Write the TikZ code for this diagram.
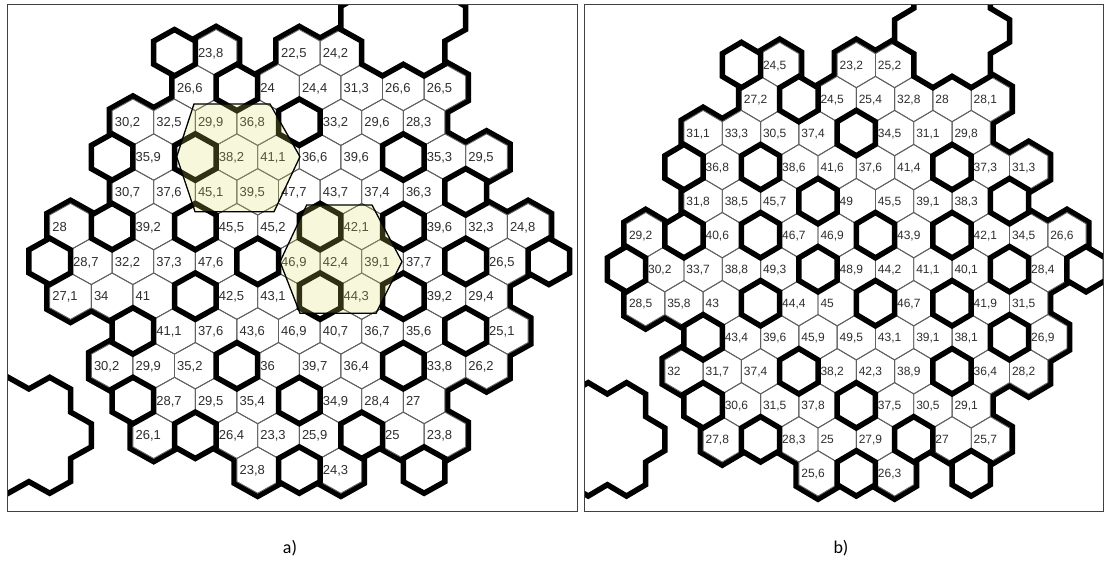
\documentclass[tikz,border=0pt]{standalone}
\usepackage{fontspec}
\setmainfont{Liberation Sans}
\newfontfamily\capfont{Carlito}
\tikzset{
  thinhex/.style={draw=black!62, line width=0.9pt},
  thickhex/.style={draw=black, line width=5.5pt, line join=miter},
  backstroke/.style={draw=black, line width=11pt, line join=miter},
  cellfill/.style={fill=white},
  celltext/.style={anchor=base west, inner sep=0pt, text=black!82},
  frame/.style={draw=black!75, line width=1pt},
  yellowfill/.style={fill={rgb,255:red,222;green,222;blue,95}, fill opacity=0.22},
  yellowline/.style={draw=black, line width=1.3pt},
  outline/.style={draw=black, line width=5.5pt, line join=miter},
}
\newcommand\hxcell[1]{\path[#1] (\cx-\HW,\cy-\VH/3) -- (\cx,\cy-2*\VH/3) -- (\cx+\HW,\cy-\VH/3) -- (\cx+\HW,\cy+\VH/3) -- (\cx,\cy+2*\VH/3) -- (\cx-\HW,\cy+\VH/3) -- cycle;}
\newcommand\setc[2]{\pgfmathsetmacro\cx{\XO+\HW*(#2)}\pgfmathsetmacro\cy{\YO+\VH*(#1)}}

\def\NA{0/7/{23,8},0/11/{22,5},0/13/{24,2},%
1/6/{26,6},1/10/{24},1/12/{24,4},1/14/{31,3},1/16/{26,6},1/18/{26,5},%
2/3/{30,2},2/5/{32,5},2/7/{29,9},2/9/{36,8},2/13/{33,2},2/15/{29,6},2/17/{28,3},%
3/4/{35,9},3/8/{38,2},3/10/{41,1},3/12/{36,6},3/14/{39,6},3/18/{35,3},3/20/{29,5},%
4/3/{30,7},4/5/{37,6},4/7/{45,1},4/9/{39,5},4/11/{47,7},4/13/{43,7},4/15/{37,4},4/17/{36,3},%
5/0/{28},5/4/{39,2},5/8/{45,5},5/10/{45,2},5/14/{42,1},5/18/{39,6},5/20/{32,3},5/22/{24,8},%
6/1/{28,7},6/3/{32,2},6/5/{37,3},6/7/{47,6},6/11/{46,9},6/13/{42,4},6/15/{39,1},6/17/{37,7},6/21/{26,5},%
7/0/{27,1},7/2/{34},7/4/{41},7/8/{42,5},7/10/{43,1},7/14/{44,3},7/18/{39,2},7/20/{29,4},%
8/5/{41,1},8/7/{37,6},8/9/{43,6},8/11/{46,9},8/13/{40,7},8/15/{36,7},8/17/{35,6},8/21/{25,1},%
9/2/{30,2},9/4/{29,9},9/6/{35,2},9/10/{36},9/12/{39,7},9/14/{36,4},9/18/{33,8},9/20/{26,2},%
10/5/{28,7},10/7/{29,5},10/9/{35,4},10/13/{34,9},10/15/{28,4},10/17/{27},%
11/4/{26,1},11/8/{26,4},11/10/{23,3},11/12/{25,9},11/16/{25},11/18/{23,8},%
12/9/{23,8},12/13/{24,3}}
\def\EA{0/5,1/8,2/11,3/2,3/6,3/16,4/19,5/2,5/6,5/12,5/16,6/-1,6/9,6/19,6/23,7/6,7/12,7/16,8/3,8/19,9/8,9/16,10/3,10/11,11/6,11/14,12/11,12/17}

\def\NB{0/9/{24,5},0/13/{23,2},0/15/{25,2},%
1/8/{27,2},1/12/{24,5},1/14/{25,4},1/16/{32,8},1/18/{28},1/20/{28,1},%
2/5/{31,1},2/7/{33,3},2/9/{30,5},2/11/{37,4},2/15/{34,5},2/17/{31,1},2/19/{29,8},%
3/6/{36,8},3/10/{38,6},3/12/{41,6},3/14/{37,6},3/16/{41,4},3/20/{37,3},3/22/{31,3},%
4/5/{31,8},4/7/{38,5},4/9/{45,7},4/13/{49},4/15/{45,5},4/17/{39,1},4/19/{38,3},%
5/2/{29,2},5/6/{40,6},5/10/{46,7},5/12/{46,9},5/16/{43,9},5/20/{42,1},5/22/{34,5},5/24/{26,6},%
6/3/{30,2},6/5/{33,7},6/7/{38,8},6/9/{49,3},6/13/{48,9},6/15/{44,2},6/17/{41,1},6/19/{40,1},6/23/{28,4},%
7/2/{28,5},7/4/{35,8},7/6/{43},7/10/{44,4},7/12/{45},7/16/{46,7},7/20/{41,9},7/22/{31,5},%
8/7/{43,4},8/9/{39,6},8/11/{45,9},8/13/{49,5},8/15/{43,1},8/17/{39,1},8/19/{38,1},8/23/{26,9},%
9/4/{32},9/6/{31,7},9/8/{37,4},9/12/{38,2},9/14/{42,3},9/16/{38,9},9/20/{36,4},9/22/{28,2},%
10/7/{30,6},10/9/{31,5},10/11/{37,8},10/15/{37,5},10/17/{30,5},10/19/{29,1},%
11/6/{27,8},11/10/{28,3},11/12/{25},11/14/{27,9},11/18/{27},11/20/{25,7},%
12/11/{25,6},12/15/{26,3}}
\def\EB{0/7,1/10,2/13,3/4,3/8,3/18,4/11,4/21,5/4,5/8,5/14,5/18,6/1,6/11,6/21,6/25,7/8,7/14,7/18,8/5,8/21,9/10,9/18,10/5,10/13,11/8,11/16,12/13,12/19}

\begin{document}
\begin{tikzpicture}[x=1pt,y=-1pt]
\useasboundingbox (0,0) rectangle (1104,572);
\fill[white] (0,0) rectangle (1104,572);

% ---------------- panel a ----------------
\def\XO{70.5}\def\HW{20.8}\def\YO{52.7}\def\VH{34.78}
\begin{scope}
\clip (7.3,5) rectangle (577.7,511.7);
\foreach \r/\q/\t in \NA {\setc{\r}{\q}\hxcell{backstroke}}
\foreach \r/\q/\t in \NA {\setc{\r}{\q}\hxcell{cellfill}}
\foreach \r/\q in \EA {\setc{\r}{\q}\hxcell{cellfill}}
\path[fill=white] (361.7,-5.27) -- (340.9,6.33) -- (340.9,29.51) -- (361.7,41.11) -- (361.7,64.29) -- (382.5,75.89) -- (403.3,64.29) -- (424.1,75.89) -- (444.9,64.29) -- (444.9,41.11) -- (465.7,29.51) -- (465.7,6.33) -- (444.9,-5.27) -- cycle;
\foreach \r/\q/\t in \NA {\setc{\r}{\q}\hxcell{thinhex}}
\foreach \r/\q in \EA {\setc{\r}{\q}\hxcell{thickhex}}
\path[outline] (361.7,-5.27) -- (340.9,6.33) -- (340.9,29.51) -- (361.7,41.11) -- (361.7,64.29) -- (382.5,75.89) -- (403.3,64.29) -- (424.1,75.89) -- (444.9,64.29) -- (444.9,41.11) -- (465.7,29.51) -- (465.7,6.33) -- (444.9,-5.27);
\path[outline] (-12.7,388.91) -- (8.1,377.31) -- (28.9,388.91) -- (49.7,377.31) -- (70.5,388.91) -- (70.5,412.09) -- (91.3,423.69) -- (91.3,446.87) -- (70.5,458.47) -- (70.5,481.65) -- (49.7,493.25) -- (28.9,481.65) -- (8.1,493.25) -- (-12.7,481.65);
\foreach \r/\q/\t in \NA {\setc{\r}{\q}
  \node[celltext, font=\fontsize{13}{13}\selectfont] (a-\r-\q) at (\cx-\HW+2.5,\cy+4.7) {\t};}
\path[yellowfill] (176.7,156.7) -- (194,104) -- (270,104) -- (300,156.7) -- (274,211.7) -- (195,211.7) -- cycle;
\path[yellowline] (176.7,156.7) -- (194,104) -- (270,104) -- (300,156.7) -- (274,211.7) -- (195,211.7) -- cycle;
\path[yellowfill] (280,261.7) -- (306.7,205) -- (372,205) -- (402,261.7) -- (376,313.3) -- (300,313.3) -- cycle;
\path[yellowline] (280,261.7) -- (306.7,205) -- (372,205) -- (402,261.7) -- (376,313.3) -- (300,313.3) -- cycle;
\end{scope}
\path[frame] (7.3,5) rectangle (577.7,511.7);

% ---------------- panel b ----------------
\def\XO{607.35}\def\HW{19.15}\def\YO{65}\def\VH{34.03}
\begin{scope}
\clip (584.7,5) rectangle (1103.3,511.7);
\foreach \r/\q/\t in \NB {\setc{\r}{\q}\hxcell{backstroke}}
\foreach \r/\q/\t in \NB {\setc{\r}{\q}\hxcell{cellfill}}
\foreach \r/\q in \EB {\setc{\r}{\q}\hxcell{cellfill}}
\path[fill=white] (913.75,-10) -- (913.75,8.28) -- (894.6,19.63) -- (894.6,42.31) -- (913.75,53.66) -- (913.75,76.34) -- (932.9,87.69) -- (952.05,76.34) -- (971.2,87.69) -- (990.35,76.34) -- (990.35,53.66) -- (1009.5,42.31) -- (1009.5,19.63) -- (990.35,8.28) -- (990.35,-10) -- cycle;
\foreach \r/\q/\t in \NB {\setc{\r}{\q}\hxcell{thinhex}}
\foreach \r/\q in \EB {\setc{\r}{\q}\hxcell{thickhex}}
\path[outline] (913.75,-10) -- (913.75,8.28) -- (894.6,19.63) -- (894.6,42.31) -- (913.75,53.66) -- (913.75,76.34) -- (932.9,87.69) -- (952.05,76.34) -- (971.2,87.69) -- (990.35,76.34) -- (990.35,53.66) -- (1009.5,42.31) -- (1009.5,19.63) -- (990.35,8.28) -- (990.35,-10);
\path[outline] (569.05,393.96) -- (588.2,382.61) -- (607.35,393.96) -- (626.5,382.61) -- (645.65,393.96) -- (645.65,416.64) -- (664.8,427.99) -- (664.8,450.67) -- (645.65,462.02) -- (645.65,484.70) -- (626.5,496.05) -- (607.35,484.70) -- (588.2,496.05) -- (569.05,484.70);
\foreach \r/\q/\t in \NB {\setc{\r}{\q}
  \node[celltext, font=\fontsize{12}{12}\selectfont] (b-\r-\q) at (\cx-\HW+2.3,\cy+4.4) {\t};}
\end{scope}
\path[frame] (584.7,5) rectangle (1103.3,511.7);

% captions
\node[font=\capfont\fontsize{18}{18}\selectfont, inner sep=0pt] (capa) at (290,548) {a)};
\node[font=\capfont\fontsize{18}{18}\selectfont, inner sep=0pt] (capb) at (841,548) {b)};
\end{tikzpicture}
\end{document}
